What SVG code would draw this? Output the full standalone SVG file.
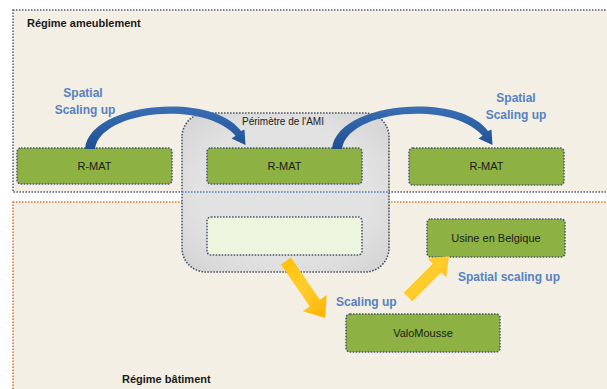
<svg xmlns="http://www.w3.org/2000/svg" width="607" height="389" viewBox="0 0 607 389">
<defs>
<style>
.region{fill:#f3efe5;stroke-width:1.6;stroke-dasharray:1.6 1.4}
.box{fill:#8db243;stroke:#4c5872;stroke-width:1.6;stroke-dasharray:1.6 1.4}
.light{fill:#eef5df;stroke:#4c5872;stroke-width:1.6;stroke-dasharray:1.6 1.4}
.peri{fill:#dadada;stroke:#4c5468;stroke-width:1.6;stroke-dasharray:1.6 1.4}
.lbl{font-family:"Liberation Sans",Arial,sans-serif;font-size:11px;fill:#1a1a1a;text-anchor:middle}
.title{font-family:"Liberation Sans",Arial,sans-serif;font-size:11px;font-weight:bold;fill:#1a1a1a}
.blue{font-family:"Liberation Sans",Arial,sans-serif;font-size:12px;font-weight:bold;fill:#5681c2}
.yarrow{fill:url(#yg)}
</style>
<linearGradient id="bg" x1="0" y1="0" x2="0" y2="1">
<stop offset="0" stop-color="#3a6fb5"/>
<stop offset="1" stop-color="#1f4f93"/>
</linearGradient>
<linearGradient id="yg" x1="0" y1="0" x2="1" y2="1">
<stop offset="0" stop-color="#ffc000"/>
<stop offset="0.5" stop-color="#ffcd2e"/>
<stop offset="1" stop-color="#ffb300"/>
</linearGradient>
<radialGradient id="pg" cx="0.5" cy="0.5" r="0.7">
<stop offset="0.6" stop-color="#e2e2e2"/>
<stop offset="1" stop-color="#d2d2d2"/>
</radialGradient>
<path id="curve" d="M85,149 C89,102 212,91 241,131 L244.5,129.4 L245.5,145 L231.5,138.6 L235.6,135.7 C205,100 100,110 95,149 Z"/>
</defs>
<rect width="607" height="389" fill="#ffffff"/>

<g id="regime-ameublement">
<rect class="region" x="13" y="10" width="600" height="182" stroke="#56627e"/>
<text class="title" x="27" y="27">Régime ameublement</text>
</g>

<g id="regime-batiment">
<rect class="region" x="13" y="202" width="600" height="200" stroke="#e07b39"/>
<text class="title" x="122" y="383">Régime bâtiment</text>
</g>

<g id="perimetre">
<rect class="peri" x="182" y="113" width="207" height="159" rx="24" fill="url(#pg)" style="fill:url(#pg)"/>
<line x1="182" y1="192" x2="389" y2="192" stroke="#5b7fb8" stroke-width="1.6" stroke-dasharray="1.6 1.4"/>
<text x="283" y="125" style="font-family:'Liberation Sans',Arial,sans-serif;font-size:10px;fill:#1a1a1a;text-anchor:middle">Périmètre de l'AMI</text>
</g>

<g id="rmat1">
<rect class="box" x="17" y="148" width="155" height="36" rx="4"/>
<text class="lbl" x="94.5" y="170">R-MAT</text>
</g>
<g id="rmat2">
<rect class="box" x="207" y="148" width="155" height="36" rx="4"/>
<text class="lbl" x="284.5" y="170">R-MAT</text>
</g>
<g id="rmat3">
<rect class="box" x="409" y="148" width="155" height="37" rx="4"/>
<text class="lbl" x="486.5" y="170">R-MAT</text>
</g>
<g id="empty-box">
<rect class="light" x="207" y="217" width="155" height="38" rx="4"/>
</g>
<g id="usine">
<rect class="box" x="427" y="219" width="138" height="38" rx="4"/>
<text class="lbl" x="496" y="242">Usine en Belgique</text>
</g>
<g id="valomousse">
<rect class="box" x="346" y="314" width="154" height="38" rx="4"/>
<text class="lbl" x="423" y="337">ValoMousse</text>
</g>

<g id="connectors">
<use href="#curve" fill="url(#bg)"/>
<use href="#curve" fill="url(#bg)" transform="translate(247,0)"/>
<polygon class="yarrow" points="291,257.6 319.8,299.7 326.8,294.9 325,318 302.8,311.2 309.8,306.5 281,264.4"/>
<polygon class="yarrow" points="412.2,301.2 441.2,272.2 446.2,277.2 449,256 427.8,258.8 432.8,263.8 403.8,292.8"/>
</g>

<g id="labels">
<text class="blue" x="83" y="97" text-anchor="middle">Spatial</text>
<text class="blue" x="85" y="114" text-anchor="middle">Scaling up</text>
<text class="blue" x="516" y="102" text-anchor="middle">Spatial</text>
<text class="blue" x="516" y="119" text-anchor="middle">Scaling up</text>
<text class="blue" x="336" y="306">Scaling up</text>
<text class="blue" x="458" y="281">Spatial scaling up</text>
</g>
</svg>
